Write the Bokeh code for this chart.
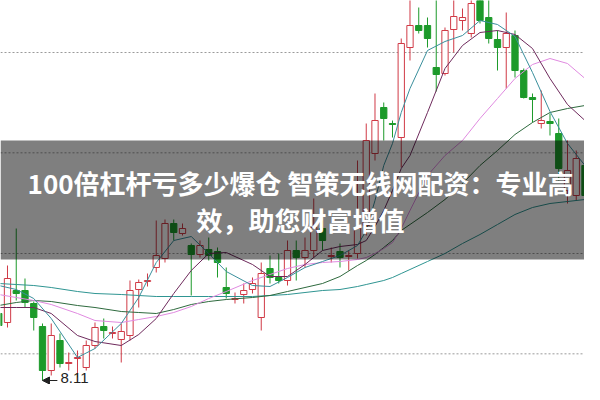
from bokeh.plotting import figure
from bokeh.models import Range1d, Span, BoxAnnotation, Label, Arrow, NormalHead, ColumnDataSource
from bokeh.embed import file_html
from bokeh.resources import INLINE

# ---- candle data (index, open, high, low, close) ----
idx = list(range(-1, 68))
open_ = [10.12, 9.85, 10.81, 10.81, 10.42, 9.73, 8.41, 9.31, 8.62, 8.77, 8.50, 9.16, 9.73, 9.52, 9.34, 9.46,
         10.84, 11.08, 11.50, 11.77, 12.82, 12.52, 12.16, 11.89, 12.04, 11.98, 10.90, 10.54, 10.69, 10.84, 10.00,
         11.47, 11.20, 11.11, 12.01, 11.80, 12.01, 12.67, 11.83, 11.98, 11.83, 11.92, 12.76, 14.92, 16.30, 15.82,
         15.40, 18.10, 18.76, 18.76, 17.50, 17.32, 18.64, 18.91, 18.52, 19.60, 19.00, 18.34, 18.10, 18.46, 17.41,
         16.60, 15.82, 15.88, 15.52, 13.81, 13.66, 14.56, 13.36]
high = [10.51, 11.56, 12.67, 11.17, 10.48, 9.82, 9.82, 9.52, 8.95, 9.01, 9.31, 9.85, 9.97, 9.73, 9.82, 11.11,
        11.14, 11.32, 12.91, 12.94, 12.94, 12.82, 12.22, 12.31, 12.40, 12.10, 11.50, 10.75, 11.02, 11.20, 11.65,
        11.86, 11.92, 12.31, 12.31, 12.40, 13.57, 12.91, 12.10, 12.22, 12.01, 14.71, 15.82, 16.72, 16.45, 15.91,
        18.37, 19.66, 19.30, 19.00, 19.66, 18.70, 19.66, 19.27, 19.66, 19.81, 19.57, 18.61, 19.15, 18.61, 17.47,
        16.72, 16.81, 16.12, 15.97, 15.31, 15.01, 15.01, 13.66]
low = [9.61, 9.70, 10.51, 10.30, 9.61, 8.11, 8.26, 8.50, 8.41, 8.20, 8.41, 9.07, 9.37, 9.37, 8.65, 9.31,
       10.30, 10.93, 11.35, 11.65, 12.31, 12.46, 10.66, 11.80, 11.71, 11.20, 10.57, 10.42, 10.42, 10.72, 9.61,
       11.02, 11.02, 10.96, 11.11, 11.50, 11.80, 12.01, 11.65, 11.50, 11.41, 11.77, 12.46, 14.71, 15.31, 15.40,
       14.50, 17.71, 18.52, 18.10, 16.78, 17.26, 17.95, 18.61, 18.40, 18.82, 18.22, 17.41, 16.87, 17.20, 16.57,
       15.85, 15.67, 15.46, 14.11, 13.42, 13.51, 13.51, 12.70]
close = [9.76, 11.17, 10.72, 10.45, 10.00, 8.41, 9.46, 8.62, 8.65, 8.80, 9.16, 9.70, 9.61, 9.55, 9.58, 10.81,
         11.05, 11.11, 11.86, 12.82, 12.55, 12.67, 11.89, 12.16, 11.86, 11.65, 10.72, 10.57, 10.81, 11.02, 11.32,
         11.20, 11.11, 12.01, 11.80, 12.01, 12.70, 12.31, 11.86, 11.80, 11.86, 12.67, 15.31, 15.91, 15.97, 15.79,
         18.22, 18.76, 18.61, 18.37, 17.29, 18.61, 19.03, 19.00, 19.42, 18.91, 18.37, 18.10, 18.52, 17.41, 16.60,
         16.54, 15.91, 15.82, 14.47, 14.41, 14.77, 13.66, 13.12]

# ---- moving-average lines ----
ma_x = [-1, 1, 3, 5, 8, 10, 13, 15, 17, 19, 21, 23, 25, 28, 30, 32, 34, 36, 38, 40, 41, 42, 43, 44, 45, 46,
        48, 50, 52, 54, 56, 58, 60, 62, 64, 66, 68]
ma5 = [10.96, 10.84, 10.57, 9.97, 8.80, 9.07, 9.82, 10.60, 11.65, 12.31, 12.43, 11.92, 11.38, 10.96, 10.93,
       11.20, 11.50, 11.68, 11.86, 12.16, 12.61, 13.51, 14.56, 15.22, 16.15, 16.87, 18.01, 18.28, 18.46, 18.91,
       18.79, 18.43, 17.35, 16.18, 15.22, 14.56, 13.81]
ma10 = [10.30, 10.30, 10.30, 10.12, 9.46, 9.28, 9.16, 9.49, 9.97, 10.72, 11.41, 11.92, 11.95, 11.59, 11.23,
        11.23, 11.59, 12.01, 12.13, 12.19, 12.31, 12.73, 13.21, 13.81, 14.47, 14.86, 16.15, 17.47, 18.16, 18.55,
        18.61, 18.49, 18.07, 17.17, 16.39, 15.91, 15.25]
ma20 = [10.69, 10.60, 10.51, 10.39, 10.12, 9.91, 9.85, 9.94, 10.03, 10.15, 10.33, 10.57, 10.78, 11.11, 11.29,
        11.47, 11.59, 11.65, 11.68, 11.74, 11.80, 11.92, 12.07, 12.25, 12.67, 13.21, 14.26, 14.86, 15.31, 15.97,
        16.57, 17.17, 17.59, 17.77, 17.62, 17.17, 16.66]
ma30 = [10.36, 10.45, 10.51, 10.48, 10.36, 10.30, 10.18, 10.15, 10.12, 10.24, 10.39, 10.48, 10.54, 10.60, 10.66,
        10.78, 10.90, 11.02, 11.23, 11.56, 11.71, 11.89, 12.10, 12.31, 12.61, 12.79, 13.15, 13.54, 14.02, 14.56,
        15.01, 15.49, 15.85, 16.15, 16.27, 16.36, 16.42]
ma60 = [11.02, 10.99, 10.96, 10.90, 10.78, 10.72, 10.69, 10.66, 10.63, 10.63, 10.63, 10.63, 10.63, 10.63, 10.66,
        10.69, 10.75, 10.81, 10.84, 10.93, 10.99, 11.05, 11.11, 11.20, 11.32, 11.44, 11.68, 11.92, 12.22, 12.49,
        12.79, 13.09, 13.30, 13.42, 13.48, 13.54, 13.60]

grid_levels = [8.91, 11.92, 14.94, 17.95]
low_label = "8.11"
low_idx = 4
low_price = 8.11
banner_lines = ["100倍杠杆亏多少爆仓 智策无线网配资：专业高", "效，助您财富增值"]

RED = "#d03a46"
GREEN = "#1c9a2a"

up = [c >= o for o, c in zip(open_, close)]
src = ColumnDataSource(dict(
    x=idx, high=high, low=low,
    top=[max(o, c) for o, c in zip(open_, close)],
    bottom=[min(o, c) for o, c in zip(open_, close)],
    color=[RED if u else GREEN for u in up],
    fill=["white" if u else GREEN for u in up],
))

p = figure(width=584, height=384, output_backend="svg", toolbar_location=None,
           x_range=Range1d(-0.8, 65.943), y_range=Range1d(7.99, 19.51),
           x_axis_type=None, y_axis_type=None, min_border=0)
p.outline_line_color = None
p.background_fill_color = "white"
p.border_fill_color = "white"

for g in grid_levels:
    p.add_layout(Span(location=g, dimension="width", line_color="#9a9a9a",
                      line_dash="2 2", line_width=1, level="underlay"))

p.segment(x0="x", y0="high", x1="x", y1="low", color="color", line_width=1, source=src)
p.vbar(x="x", width=0.72, top="top", bottom="bottom", fill_color="fill",
       line_color="color", line_width=1, source=src)

p.line(ma_x, ma60, line_color="#2f9592", line_width=1)
p.line(ma_x, ma30, line_color="#2e6a3e", line_width=1)
p.line(ma_x, ma20, line_color="#e08ae0", line_width=1)
p.line(ma_x, ma10, line_color="#6e2a5c", line_width=1)
p.line(ma_x, ma5, line_color="#3a8f9c", line_width=1)

p.add_layout(Arrow(end=NormalHead(size=7, fill_color="#222222", line_color="#222222"),
                   x_start=low_idx + 1.7, y_start=low_price, x_end=low_idx, y_end=low_price,
                   line_color="#222222", line_width=1))
p.add_layout(Label(x=low_idx + 2.06, y=low_price - 0.06, text=low_label, text_align="left",
                   text_baseline="bottom", text_color="#222222", text_font_size="15px",
                   text_font="Liberation Sans"))

p.add_layout(BoxAnnotation(bottom=11.74, top=15.31, fill_color="black", fill_alpha=0.5,
                           line_color=None))
p.add_layout(Label(x=33.49, y=14.05, text=banner_lines[0], text_align="center",
                   text_baseline="middle", text_color="white", text_font_size="26px",
                   text_font_style="bold", text_font="Noto Sans CJK SC"))
p.add_layout(Label(x=33.49, y=12.94, text=banner_lines[1], text_align="center",
                   text_baseline="middle", text_color="white", text_font_size="26px",
                   text_font_style="bold", text_font="Noto Sans CJK SC"))

open("out.html", "w").write(file_html(p, INLINE))
